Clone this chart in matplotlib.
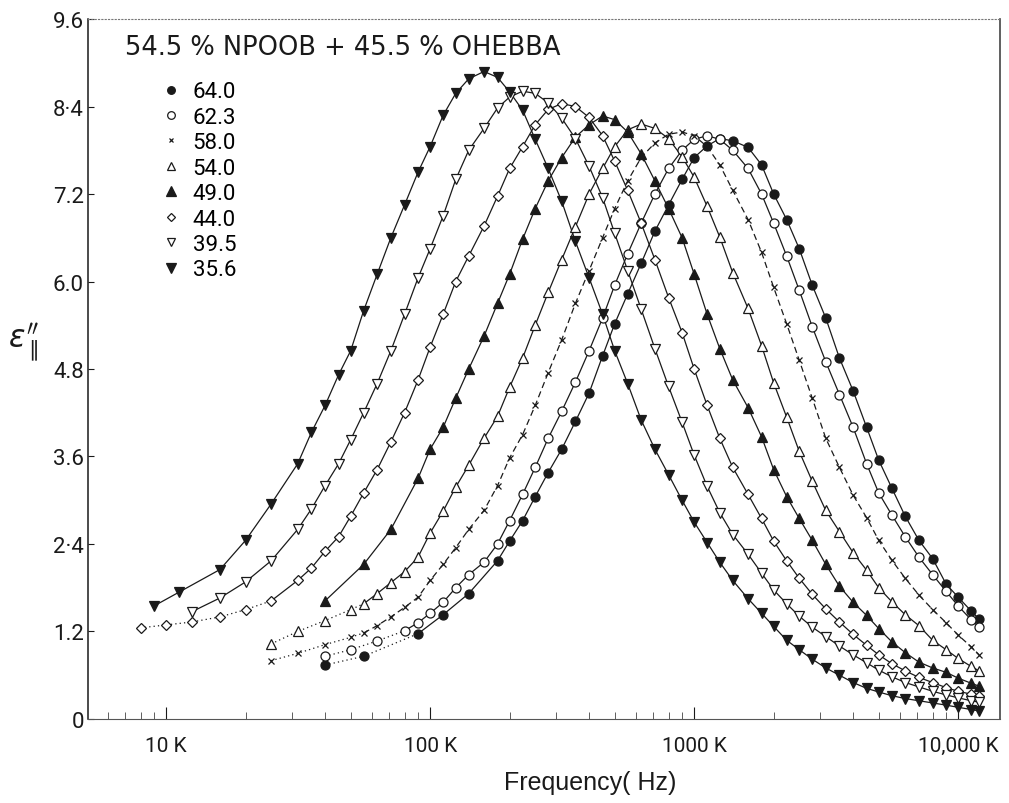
import numpy as np
import matplotlib
matplotlib.use("Agg")
import matplotlib.pyplot as plt
from matplotlib.lines import Line2D
from matplotlib.ticker import LogLocator, NullFormatter
from matplotlib import font_manager

nan = np.nan

# Measuring frequencies (kHz)
freq_khz = [8.0, 9.0, 10, 11.2, 12.5, 14, 16, 18, 20, 22.4,
            25, 28, 31.5, 35.5, 40, 45, 50, 56, 63, 71,
            80, 90, 100, 112, 125, 140, 160, 180, 200, 224,
            250, 280, 315, 355, 400, 450, 500, 560, 630, 710,
            800, 900, 1000, 1120, 1250, 1400, 1600, 1800, 2000, 2240,
            2500, 2800, 3150, 3550, 4000, 4500, 5000, 5600, 6300, 7100,
            8000, 9000, 10000, 11200, 12000]

# Dielectric loss at each temperature (deg C); nan = not measured
eps_64_0 = [nan, nan, nan, nan, nan, nan, nan, nan, nan, nan,
            nan, nan, nan, nan, 0.74, nan, nan, 0.86, nan, nan,
            nan, 1.17, nan, 1.43, nan, 1.72, nan, 2.17, 2.44, 2.72,
            3.05, 3.38, 3.70, 4.08, 4.47, 4.98, 5.42, 5.83, 6.25, 6.69,
            7.05, 7.40, 7.70, 7.86, 7.96, 7.93, 7.84, 7.60, 7.20, 6.85,
            6.45, 5.95, 5.50, 4.95, 4.50, 4.00, 3.55, 3.17, 2.78, 2.45,
            2.20, 1.85, 1.67, 1.48, 1.37]
eps_62_3 = [nan, nan, nan, nan, nan, nan, nan, nan, nan, nan,
            nan, nan, nan, nan, 0.86, nan, 0.95, nan, 1.07, nan,
            1.21, 1.32, 1.45, 1.60, 1.80, 1.98, 2.15, 2.40, 2.72, 3.08,
            3.45, 3.85, 4.22, 4.62, 5.05, 5.50, 5.95, 6.38, 6.80, 7.20,
            7.55, 7.80, 7.95, 8.00, 7.95, 7.80, 7.55, 7.20, 6.80, 6.35,
            5.88, 5.38, 4.90, 4.45, 4.00, 3.50, 3.10, 2.80, 2.50, 2.22,
            1.98, 1.75, 1.55, 1.36, 1.26]
eps_58_0 = [nan, nan, nan, nan, nan, nan, nan, nan, nan, nan,
            0.80, nan, 0.90, nan, 1.02, nan, 1.12, 1.18, 1.28, 1.40,
            1.53, 1.67, 1.90, 2.12, 2.35, 2.60, 2.86, 3.20, 3.58, 3.90,
            4.30, 4.75, 5.20, 5.70, 6.15, 6.60, 7.00, 7.38, 7.70, 7.90,
            8.02, 8.05, 8.00, 7.85, 7.60, 7.25, 6.85, 6.40, 5.92, 5.42,
            4.92, 4.40, 3.85, 3.45, 3.07, 2.76, 2.45, 2.18, 1.93, 1.70,
            1.50, 1.32, 1.15, 0.99, 0.88]
eps_54_0 = [nan, nan, nan, nan, nan, nan, nan, nan, nan, nan,
            1.03, nan, 1.20, nan, 1.35, nan, 1.50, 1.58, 1.72, 1.87,
            2.02, 2.22, 2.55, 2.85, 3.18, 3.48, 3.85, 4.15, 4.55, 4.95,
            5.40, 5.85, 6.30, 6.75, 7.20, 7.55, 7.85, 8.08, 8.16, 8.10,
            7.96, 7.71, 7.43, 7.03, 6.61, 6.12, 5.63, 5.12, 4.61, 4.14,
            3.67, 3.26, 2.86, 2.57, 2.28, 2.04, 1.80, 1.61, 1.43, 1.28,
            1.08, 0.95, 0.83, 0.72, 0.66]
eps_49_0 = [nan, nan, nan, nan, nan, nan, nan, nan, nan, nan,
            nan, nan, nan, nan, 1.62, nan, nan, 2.12, nan, 2.60,
            nan, 3.30, 3.70, 4.00, 4.40, 4.80, 5.25, 5.70, 6.10, 6.58,
            7.00, 7.38, 7.70, 7.98, 8.15, 8.27, 8.22, 8.05, 7.75, 7.38,
            7.00, 6.60, 6.10, 5.55, 5.08, 4.65, 4.27, 3.87, 3.42, 3.05,
            2.75, 2.45, 2.12, 1.82, 1.60, 1.42, 1.24, 1.06, 0.91, 0.78,
            0.70, 0.64, 0.56, 0.49, 0.45]
eps_44_0 = [1.25, nan, 1.29, nan, 1.33, nan, 1.40, nan, 1.50, nan,
            1.62, nan, 1.90, 2.07, 2.30, 2.50, 2.78, 3.10, 3.42, 3.80,
            4.20, 4.65, 5.10, 5.55, 6.00, 6.35, 6.76, 7.17, 7.55, 7.85,
            8.15, 8.36, 8.44, 8.40, 8.25, 8.00, 7.65, 7.25, 6.80, 6.30,
            5.78, 5.30, 4.80, 4.30, 3.85, 3.45, 3.08, 2.75, 2.44, 2.17,
            1.93, 1.71, 1.51, 1.33, 1.16, 1.01, 0.88, 0.76, 0.66, 0.57,
            0.50, 0.43, 0.38, 0.34, 0.32]
eps_39_5 = [nan, nan, nan, nan, 1.47, nan, 1.66, nan, 1.88, nan,
            2.17, nan, 2.60, 2.88, 3.20, 3.50, 3.83, 4.20, 4.60, 5.05,
            5.55, 6.05, 6.45, 6.90, 7.40, 7.80, 8.10, 8.38, 8.53, 8.61,
            8.58, 8.45, 8.24, 7.96, 7.58, 7.15, 6.66, 6.15, 5.62, 5.08,
            4.56, 4.07, 3.62, 3.19, 2.83, 2.53, 2.26, 2.00, 1.77, 1.58,
            1.41, 1.26, 1.13, 1.00, 0.88, 0.77, 0.67, 0.58, 0.50, 0.44,
            0.38, 0.33, 0.29, 0.25, 0.23]
eps_35_6 = [nan, 1.55, nan, 1.74, nan, nan, 2.05, nan, 2.45, nan,
            2.95, nan, 3.50, 3.93, 4.30, 4.72, 5.05, 5.60, 6.10, 6.60,
            7.05, 7.50, 7.85, 8.28, 8.58, 8.78, 8.88, 8.80, 8.60, 8.35,
            7.95, 7.55, 7.10, 6.55, 6.05, 5.55, 5.05, 4.60, 4.10, 3.70,
            3.35, 3.00, 2.70, 2.42, 2.15, 1.90, 1.65, 1.45, 1.27, 1.08,
            0.95, 0.82, 0.70, 0.60, 0.50, 0.42, 0.37, 0.32, 0.28, 0.25,
            0.22, 0.19, 0.16, 0.13, 0.11]

temps = ["64.0", "62.3", "58.0", "54.0", "49.0", "44.0", "39.5", "35.6"]
series = [eps_64_0, eps_62_3, eps_58_0, eps_54_0, eps_49_0, eps_44_0, eps_39_5, eps_35_6]

y_ticks = [0, 1.2, 2.4, 3.6, 4.8, 6.0, 7.2, 8.4, 9.6]
y_tick_labels = ["0", "1.2", "2\u00b74", "3.6", "4.8", "6.0", "7.2", "8\u00b74", "9.6"]
x_ticks = [10, 100, 1000, 10000]
x_tick_labels = ["10 K", "100 K", "1000 K", "10,000 K"]

# marker, size, filled, main line dash, index where the faint dotted start ends
styles = {
    "64.0": dict(marker="o", ms=6.5, filled=True, ls="-", solid_from=21),
    "62.3": dict(marker="o", ms=6.5, filled=False, ls="-", solid_from=20),
    "58.0": dict(marker="x", ms=4.5, filled=True, ls=(0, (5, 3)), solid_from=17),
    "54.0": dict(marker="^", ms=6.5, filled=False, ls="-", solid_from=17),
    "49.0": dict(marker="^", ms=7.5, filled=True, ls="-", solid_from=0),
    "44.0": dict(marker="D", ms=5.2, filled=False, ls="-", solid_from=10),
    "39.5": dict(marker="v", ms=6.5, filled=False, ls="-", solid_from=0),
    "35.6": dict(marker="v", ms=7.5, filled=True, ls="-", solid_from=0),
}

available = {f.name for f in font_manager.fontManager.ttflist}
def pick(*names):
    for n in names:
        if n in available:
            return n
    return "DejaVu Sans"

tick_font = pick("Liberation Sans Narrow", "Roboto", "DejaVu Sans")
text_font = pick("Liberation Sans", "DejaVu Sans")
title_font = "DejaVu Sans"
ink = "#1a1a1a"

fig = plt.figure(figsize=(10.09, 8.04), dpi=100)
ax = fig.add_axes([0.0872, 0.1045, 0.9039, 0.8706])
ax.set_xscale("log")
ax.set_xlim(5.06, 14400)
ax.set_ylim(0, 9.6)

f = np.array(freq_khz, dtype=float)
for temp, eps in zip(temps, series):
    st = styles[temp]
    e = np.array(eps, dtype=float)
    idx = np.where(~np.isnan(e))[0]
    cut = st["solid_from"]
    lo = idx[idx <= cut]
    hi = idx[idx >= cut]
    if cut > idx[0] and len(lo) > 1:
        ax.plot(f[lo], e[lo], color=ink, lw=0.9, ls=(0, (1, 2.5)), zorder=2)
    ax.plot(f[hi], e[hi], color=ink, lw=0.9, ls=st["ls"], zorder=2)
    face = ink if st["filled"] else "white"
    ax.plot(f[idx], e[idx], ls="none", marker=st["marker"], ms=st["ms"],
            mfc=face, mec=ink, mew=0.9, zorder=3)

# Axes frame
ax.spines["left"].set_color(ink)
ax.spines["left"].set_linewidth(1.1)
ax.spines["bottom"].set_color("#555555")
ax.spines["bottom"].set_linewidth(0.8)
ax.spines["top"].set_color("#777777")
ax.spines["top"].set_linewidth(0.8)
ax.spines["top"].set_linestyle((0, (1, 2)))
ax.spines["right"].set_color("#444444")
ax.spines["right"].set_linewidth(1.2)

ax.set_yticks(y_ticks)
ax.set_yticklabels(y_tick_labels, fontsize=16, color=ink, family=tick_font)
ax.tick_params(axis="y", direction="in", length=4, width=0.8, pad=3, colors=ink)
ax.set_xticks(x_ticks)
ax.set_xticklabels(x_tick_labels, fontsize=15, color=ink, family=tick_font)
ax.xaxis.set_minor_locator(LogLocator(base=10, subs=np.arange(2, 10)))
ax.xaxis.set_minor_formatter(NullFormatter())
ax.tick_params(axis="x", which="major", direction="in", length=9, width=0.8, pad=12, colors=ink)
ax.tick_params(axis="x", which="minor", direction="in", length=5, width=0.6, colors="#444444")

# Title and legend
ax.text(0.041, 0.95, "54.5 % NPOOB + 45.5 % OHEBBA", transform=ax.transAxes,
        fontsize=18.5, va="baseline", ha="left", color=ink, family=title_font)

handles = []
for temp in temps:
    st = styles[temp]
    handles.append(Line2D([], [], ls="none", marker=st["marker"], ms=st["ms"] - 1,
                          mfc=ink if st["filled"] else "white", mec=ink, mew=0.9))
ax.legend(handles, temps, loc="upper left", bbox_to_anchor=(0.083, 0.911),
          frameon=False, handlelength=0.7, handletextpad=0.6,
          labelspacing=0.2, borderaxespad=0, borderpad=0,
          prop={"family": tick_font, "size": 16})

# Axis titles
fig.text(590 / 1009, 1 - 783 / 804, "Frequency( Hz)", fontsize=18, ha="center",
         va="center", color=ink, family=text_font)
fig.text(24 / 1009, 1 - 343 / 804, r"$\epsilon_{\parallel}^{\prime\prime}$", fontsize=22,
         ha="center", va="center", color=ink)

fig.savefig("out.png", dpi=100, facecolor="white")
